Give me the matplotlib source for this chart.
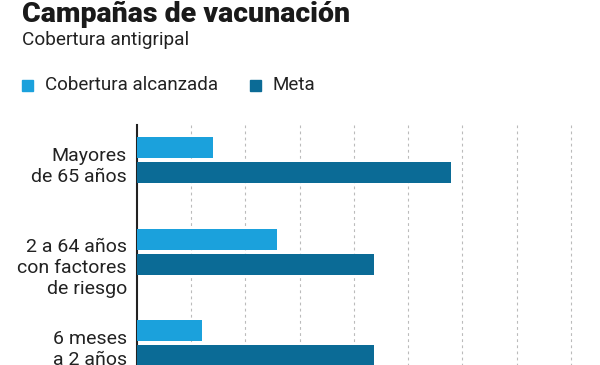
import matplotlib
matplotlib.use("Agg")
import matplotlib.pyplot as plt
import numpy as np

categories = ["Mayores\nde 65 años", "2 a 64 años\ncon factores\nde riesgo", "6 meses\na 2 años"]
cobertura = [14.0, 25.8, 12.0]
meta = [57.9, 43.7, 43.7]
series_names = ["Cobertura alcanzada", "Meta"]
grid_ticks = [10, 20, 30, 40, 50, 60, 70, 80]

c_light = "#1ba1dc"
c_dark = "#0b6b96"
font = "Roboto"

fig = plt.figure(figsize=(6, 3.65), dpi=100)
ax = fig.add_axes([137/600, 1-398/365, 463/600, (398-125)/365])

y = np.arange(len(categories))
h = 0.23
ax.barh(y - 0.137, cobertura, height=h, color=c_light, zorder=3)
ax.barh(y + 0.137, meta, height=h, color=c_dark, zorder=3)

ax.set_xlim(0, 85.4)
ax.set_ylim(2.6, -0.383)
for t in grid_ticks:
    ax.axvline(t, color="#bbbbbb", lw=0.8, ls=(0, (2.5, 3)), zorder=1)
for s in ["top", "right", "bottom"]:
    ax.spines[s].set_visible(False)
ax.spines["left"].set_color("#222222")
ax.spines["left"].set_linewidth(1.5)
ax.set_xticks([])
ax.set_yticks([])

for i, lab in enumerate(categories):
    ax.text(-10/5.42, i - 0.137 - 0.01, lab, ha="right", va="top", fontsize=14,
            family=font, color="#222222", linespacing=1.22)

fig.text(22/600, 1-14/365, "Campañas de vacunación", fontsize=20.5, fontweight="black",
         family=font, color="#1a1a1a", va="center", ha="left")
fig.text(22/600, 1-40/365, "Cobertura antigripal", fontsize=13.7, family=font,
         color="#222222", va="center", ha="left")

# legend
for x0, col, name in [(22, c_light, series_names[0]), (250, c_dark, series_names[1])]:
    fig.patches.append(plt.Rectangle((x0/600, 1-91/365), 11/600, 11/365,
                                     transform=fig.transFigure, color=col))
    fig.text((x0+23)/600, 1-85/365, name, fontsize=13.5, family=font,
             color="#222222", va="center", ha="left")

fig.savefig("out.png", dpi=100)
